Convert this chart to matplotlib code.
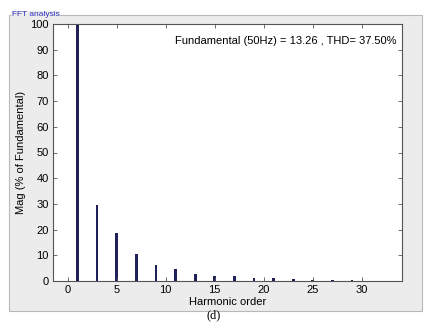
import matplotlib
matplotlib.use("Agg")
import matplotlib.pyplot as plt
from matplotlib.patches import Rectangle

plt.rcParams['font.family'] = ['Liberation Sans', 'DejaVu Sans']

harmonics = [1, 3, 5, 7, 9, 11, 13, 15, 17, 19, 21, 23, 25, 27, 29, 31]
magnitudes = [100, 29.5, 18.8, 10.5, 6.3, 4.5, 2.8, 1.9, 1.8, 1.3, 1.1, 0.6, 0.4, 0.2, 0.2, 0.15]
xticks = [0, 5, 10, 15, 20, 25, 30]
yticks = [0, 10, 20, 30, 40, 50, 60, 70, 80, 90, 100]
annotation = "Fundamental (50Hz) = 13.26 , THD= 37.50%"

W, H = 425, 322
fig = plt.figure(figsize=(W / 100, H / 100), dpi=100)
fig.patch.set_facecolor('white')

def fx(px):
    return px / W

def fy(py):
    return 1 - py / H

# grey panel
panel = Rectangle((fx(9), fy(311)), fx(422) - fx(9), fy(15) - fy(311),
                  transform=fig.transFigure, facecolor='#ececec',
                  edgecolor='#b8b8b8', linewidth=0.8, zorder=-5)
fig.patches.append(panel)
fig.text(fx(12), fy(15), "FFT analysis", color='#3030c0', fontsize=6,
         va='center', ha='left', zorder=-1,
         bbox=dict(facecolor='#ececec', edgecolor='none', pad=0.5))

ax = fig.add_axes([fx(53), fy(281), fx(402) - fx(53), fy(24) - fy(281)])
ax.set_zorder(2)
ax.set_facecolor('white')
ax.bar(harmonics, magnitudes, width=0.28, color='#20205a', linewidth=0)
ax.set_xlim(-1.5, 34.1)
ax.set_ylim(0, 100)
ax.set_xticks(xticks)
ax.set_yticks(yticks)
ax.tick_params(direction='in', length=3, width=0.6, color='#555555',
               labelsize=8, top=True, right=True, pad=3)
for s in ax.spines.values():
    s.set_color('#555555')
    s.set_linewidth(0.8)
ax.set_xlabel("Harmonic order", fontsize=8, labelpad=1)
ax.set_ylabel("Mag (% of Fundamental)", fontsize=8, labelpad=3)
ax.text(0.985, 0.955, annotation, transform=ax.transAxes, ha='right',
        va='top', fontsize=8)

fig.text(fx(214), fy(321), "(d)", fontsize=9, family='Liberation Serif',
         ha='center', va='bottom')

fig.savefig("out.png", dpi=100)
